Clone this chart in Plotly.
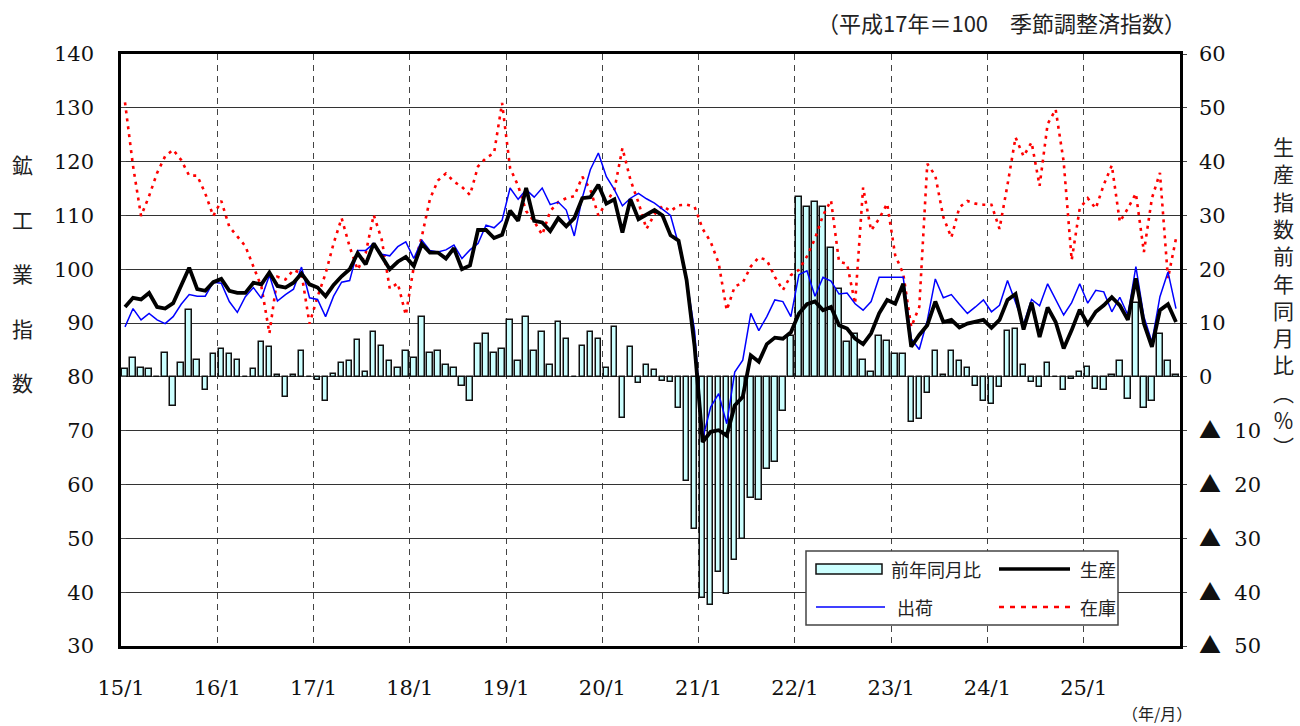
import plotly.graph_objects as go

# ---------------- data (monthly, 15/1 .. 25/12) ----------------
year_labels = ["15/1", "16/1", "17/1", "18/1", "19/1", "20/1",
               "21/1", "22/1", "23/1", "24/1", "25/1"]

production = [
    93.0, 94.7, 94.4, 95.6, 93.0, 92.7, 93.7, 97.0, 100.3, 96.3, 96.0, 97.6,
    98.2, 96.0, 95.6, 95.6, 97.5, 97.2, 99.4, 96.9, 96.6, 97.5, 99.2, 97.2,
    96.6, 95.0, 97.1, 98.7, 100.0, 103.0, 100.9, 104.8, 102.3, 100.0, 101.4, 102.3,
    100.6, 104.7, 103.1, 103.1, 102.0, 103.9, 100.0, 100.7, 107.3, 107.3, 105.8, 106.4,
    110.9, 109.0, 115.1, 109.0, 108.7, 107.1, 109.5, 108.0, 109.5, 113.2, 113.4, 115.7,
    112.2, 113.0, 106.8, 113.0, 109.3, 110.2, 111.0, 110.0, 106.3, 105.3, 98.0, 85.6,
    67.9, 69.8, 70.1, 69.1, 74.7, 76.3, 84.0, 82.8, 86.1, 87.3, 87.1, 88.3,
    91.8, 93.5, 94.0, 92.4, 93.0, 89.6, 89.0, 87.1, 86.1, 88.1, 91.8, 94.3,
    93.6, 97.3, 85.6, 87.8, 89.6, 94.0, 90.2, 90.6, 89.2, 89.9, 90.3, 90.6,
    89.1, 90.6, 94.3, 95.4, 88.8, 93.8, 87.4, 92.9, 90.2, 85.3, 88.7, 92.5,
    89.8, 92.1, 93.3, 94.8, 93.3, 90.6, 98.3, 89.9, 85.6, 92.4, 93.5, 90.2,
]

shipments = [
    89.3, 92.7, 90.6, 91.8, 90.6, 89.9, 91.2, 93.5, 95.3, 95.0, 95.0, 97.6,
    97.4, 94.0, 92.0, 94.9, 96.6, 94.6, 98.9, 94.1, 95.3, 96.3, 100.4, 94.7,
    94.4, 91.2, 95.0, 97.6, 97.9, 103.5, 103.5, 104.8, 102.8, 102.5, 104.2, 105.1,
    102.0, 105.4, 103.5, 103.2, 103.6, 104.5, 102.0, 103.6, 104.8, 108.2, 107.7, 109.1,
    115.1, 113.0, 114.8, 113.4, 115.1, 112.0, 112.5, 111.0, 106.2, 113.3, 118.5, 121.6,
    117.2, 114.8, 111.8, 113.2, 114.1, 113.1, 112.3, 111.2, 110.0, 104.6, 98.2, 88.5,
    68.5, 74.4, 76.9, 71.3, 80.9, 83.1, 91.8, 88.6, 91.2, 94.3, 94.0, 91.2,
    99.0, 99.7, 95.0, 98.5, 97.8, 95.4, 95.6, 93.6, 92.4, 94.0, 98.5, 98.5,
    98.5, 98.5, 87.1, 85.1, 90.5, 98.2, 94.7, 95.3, 93.5, 91.8, 93.0, 94.3,
    92.1, 93.3, 97.9, 94.0, 89.8, 94.4, 93.2, 97.3, 94.4, 91.5, 93.8, 97.3,
    93.7, 96.1, 95.8, 92.1, 94.8, 91.5, 100.5, 91.2, 86.5, 94.9, 99.5, 92.7,
]

inventory = [
    131.0, 119.2, 109.9, 113.6, 117.9, 121.0, 122.2, 120.3, 117.4, 117.4, 114.1, 109.9,
    112.7, 107.9, 106.1, 104.3, 100.5, 96.8, 88.1, 98.6, 98.1, 99.9, 99.2, 89.9,
    94.9, 99.2, 104.8, 109.5, 104.2, 99.9, 103.0, 110.1, 105.5, 96.4, 97.4, 91.5,
    100.5, 106.1, 113.0, 116.5, 117.8, 116.3, 115.3, 113.8, 119.1, 120.7, 121.6, 130.9,
    118.8, 115.5, 110.8, 108.9, 106.4, 110.8, 112.5, 113.2, 113.6, 117.2, 114.8, 110.0,
    112.4, 114.8, 122.5, 116.6, 112.4, 107.5, 110.2, 111.8, 110.8, 111.9, 112.0, 111.6,
    107.5, 105.1, 101.1, 92.4, 96.8, 97.5, 100.5, 102.2, 101.7, 98.6, 96.1, 98.9,
    99.9, 102.4, 105.7, 110.0, 112.8, 101.4, 101.0, 93.6, 115.2, 107.2, 109.4, 112.2,
    102.6, 99.2, 89.3, 93.0, 119.6, 117.4, 109.7, 105.9, 111.5, 112.7, 112.2, 112.0,
    112.0, 107.5, 115.7, 124.5, 121.0, 123.6, 115.5, 127.0, 129.7, 120.0, 101.7, 111.3,
    113.2, 111.3, 115.7, 119.3, 108.8, 111.3, 114.1, 103.2, 113.2, 117.9, 98.3, 105.7,
]

yoy_change = [
    1.4, 3.5, 1.7, 1.4, 0.0, 4.5, -5.4, 2.6, 12.4, 3.2, -2.5, 4.2,
    5.1, 4.2, 3.2, 0.0, 1.4, 6.5, 5.5, 0.3, -3.8, 0.3, 4.8, 0.0,
    -0.6, -4.5, 0.6, 2.5, 2.9, 6.8, 1.0, 8.3, 5.8, 2.9, 1.7, 4.8,
    3.5, 11.2, 4.5, 4.8, 2.2, 1.6, -1.6, -4.5, 6.1, 8.0, 4.5, 5.2,
    10.5, 2.9, 11.2, 4.8, 8.3, 2.2, 10.2, 7.0, 0.0, 5.8, 8.3, 7.0,
    1.6, 9.2, -7.6, 5.5, -1.2, 2.2, 1.3, -0.7, -1.0, -5.8, -19.4, -28.3,
    -41.0, -42.3, -36.3, -40.4, -34.0, -30.2, -22.5, -22.8, -17.2, -15.9, -6.3, 7.6,
    33.4, 31.5, 32.5, 31.5, 23.9, 16.3, 6.4, 7.9, 3.2, 1.0, 7.6, 6.7,
    4.2, 4.2, -8.3, -7.9, -2.9, 4.8, 0.3, 4.8, 2.9, 1.6, -1.6, -4.4,
    -5.1, -1.9, 8.6, 8.9, 2.2, -0.9, -1.9, 2.5, 0.0, -2.5, -0.3, 1.0,
    1.9, -2.2, -2.5, 0.3, 2.9, -4.1, 13.7, -5.7, -4.4, 7.9, 2.9, 0.3,
]

left_ticks = [30, 40, 50, 60, 70, 80, 90, 100, 110, 120, 130, 140]
right_ticks = [-50, -40, -30, -20, -10, 0, 10, 20, 30, 40, 50, 60]
TRI = "<span style=\"font-family:'Noto Sans CJK JP';font-size:22px\">▲</span>  "
right_ticktext = [TRI + "50", TRI + "40", TRI + "30", TRI + "20", TRI + "10",
                  "0", "10", "20", "30", "40", "50", "60"]

# ---------------- figure ----------------
n = len(production)
xpos = [i + 0.5 for i in range(n)]          # month slots
year_pos = [12 * k for k in range(len(year_labels))]

NUM_FONT = "DejaVu Serif, Noto Sans CJK JP"
JP_FONT = "Noto Sans CJK JP, DejaVu Serif"

fig = go.Figure()

fig.add_trace(go.Bar(
    x=xpos, y=yoy_change, width=0.68, name="前年同月比",
    marker=dict(color="#ccffff", line=dict(color="#111111", width=1.5)),
    yaxis="y", showlegend=False,
))
fig.add_trace(go.Scatter(
    x=xpos, y=inventory, mode="lines", name="在庫",
    line=dict(color="#ff0000", width=2.6, dash="3px,5px"),
    yaxis="y2", showlegend=False,
))
fig.add_trace(go.Scatter(
    x=xpos, y=shipments, mode="lines", name="出荷",
    line=dict(color="#0000ff", width=1.5),
    yaxis="y2", showlegend=False,
))
fig.add_trace(go.Scatter(
    x=xpos, y=production, mode="lines", name="生産",
    line=dict(color="#000000", width=3.8),
    yaxis="y2", showlegend=False,
))

L, R, T, B = 121, 1180, 54, 646
W, H = 1300, 726


def px(x):
    return (x - L) / (R - L)


def py(y):
    return (B - y) / (B - T)


fig.update_layout(
    width=W, height=H,
    margin=dict(l=L, r=W - R, t=T, b=H - B, autoexpand=False),
    paper_bgcolor="white", plot_bgcolor="white",
    bargap=0,
    xaxis=dict(
        range=[0, n], tickmode="array", tickvals=year_pos, ticktext=year_labels,
        showgrid=True, gridcolor="#444444", gridwidth=1, griddash="6px,5px",
        showline=True, mirror=True, linecolor="#000000", linewidth=2.5,
        ticks="", ticklabelstandoff=21, automargin=False,
        tickfont=dict(family=NUM_FONT, size=21, color="#111111"),
        zeroline=False,
    ),
    yaxis=dict(
        range=[-50, 60], side="right", tickmode="array",
        tickvals=right_ticks, ticktext=right_ticktext,
        showgrid=True, gridcolor="#333333", gridwidth=1,
        showline=True, mirror=True, linecolor="#000000", linewidth=2.5,
        ticks="outside", ticklen=4, tickcolor="#444444",
        ticklabelstandoff=8, automargin=False,
        tickfont=dict(family=NUM_FONT, size=21, color="#111111"),
        zeroline=True, zerolinecolor="#555555", zerolinewidth=1.2,
    ),
    yaxis2=dict(
        range=[30, 140], side="left", overlaying="y", tickmode="array",
        tickvals=left_ticks, showgrid=False, automargin=False,
        showline=False, ticks="inside", ticklen=5, tickcolor="#444444",
        ticklabelstandoff=26,
        tickfont=dict(family=NUM_FONT, size=21, color="#111111"),
        zeroline=False,
    ),
)

annotations = [
    dict(text="（平成17年＝100　季節調整済指数）", x=px(1188), y=py(22),
         xanchor="right", yanchor="middle",
         font=dict(family=JP_FONT, size=22, color="#222222")),
    dict(text="（年/月）", x=px(1194), y=py(713), xanchor="right", yanchor="middle",
         font=dict(family=JP_FONT, size=16, color="#222222")),
    dict(text="鉱<br><br>工<br><br>業<br><br>指<br><br>数", x=px(22), y=py(273),
         xanchor="center", yanchor="middle",
         font=dict(family=JP_FONT, size=21, color="#222222")),
    dict(text="生<br>産<br>指<br>数<br>前<br>年<br>同<br>月<br>比<br>︵<br>％<br>︶",
         x=px(1283), y=py(296), xanchor="center", yanchor="middle",
         font=dict(family=JP_FONT, size=21, color="#222222")),
    # legend labels
    dict(text="前年同月比", x=px(889), y=py(569), xanchor="left", yanchor="middle",
         font=dict(family=JP_FONT, size=18, color="#222222")),
    dict(text="生産", x=px(1078), y=py(569), xanchor="left", yanchor="middle",
         font=dict(family=JP_FONT, size=18, color="#222222")),
    dict(text="出荷", x=px(895), y=py(607), xanchor="left", yanchor="middle",
         font=dict(family=JP_FONT, size=18, color="#222222")),
    dict(text="在庫", x=px(1078), y=py(607), xanchor="left", yanchor="middle",
         font=dict(family=JP_FONT, size=18, color="#222222")),
]
for a in annotations:
    a.update(xref="paper", yref="paper", showarrow=False)
fig.update_layout(annotations=annotations)

shapes = [
    dict(type="rect", x0=px(806), x1=px(1118), y0=py(551), y1=py(625),
         line=dict(color="#444444", width=1.5), fillcolor="white"),
    dict(type="rect", x0=px(816), x1=px(882), y0=py(564), y1=py(574),
         line=dict(color="#111111", width=1.5), fillcolor="#ccffff"),
    dict(type="line", x0=px(999), x1=px(1070), y0=py(569), y1=py(569),
         line=dict(color="#000000", width=3.5)),
    dict(type="line", x0=px(816), x1=px(885), y0=py(607), y1=py(607),
         line=dict(color="#0000ff", width=1.5)),
    dict(type="line", x0=px(999), x1=px(1070), y0=py(607), y1=py(607),
         line=dict(color="#ff0000", width=2.6, dash="5px,6px")),
]
for s in shapes:
    s.update(xref="paper", yref="paper", layer="above")
fig.update_layout(shapes=shapes)

fig.write_html(
    "out.html",
    config={"displayModeBar": False},
    post_script="document.body.style.margin='0';document.body.style.padding='0';",
)
